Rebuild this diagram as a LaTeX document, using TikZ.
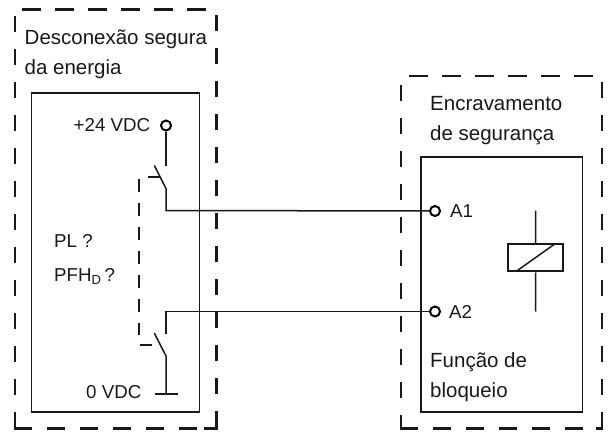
\documentclass[tikz,border=0pt]{standalone}
\usepackage{fontspec}
\setmainfont{Liberation Sans}
\begin{document}
\begin{tikzpicture}[x=1pt,y=-1pt,
  wire/.style={line width=1.5pt,black!90},
  boxline/.style={line width=1.3pt,black!90},
  frame/.style={line width=2.4pt,black!90},
  term/.style={circle,draw=black,line width=2pt,fill=white,inner sep=0pt,minimum size=10pt},
  big/.style={anchor=base west,inner sep=0pt,font=\fontsize{20.5}{22}\selectfont,text=black!90},
  small/.style={anchor=base west,inner sep=0pt,font=\fontsize{18.7}{22}\selectfont,text=black!90}]
\useasboundingbox (0,0) rectangle (608,432);
\fill[white] (0,0) rectangle (608,432);
% outer dashed frames
\draw[frame,dash pattern=on 19pt off 14pt] (22,9.5) -- (216,9.5);
\draw[frame,dash pattern=on 16pt off 17pt] (216.5,15) -- (216.5,416);
\draw[frame,dash pattern=on 16pt off 17pt] (14.7,16) -- (14.7,416);
\draw[frame] (14.7,416) -- (14.7,428.5) -- (32,428.5);
\draw[frame,dash pattern=on 18pt off 15pt] (47,428.5) -- (200,428.5);
\draw[frame] (204,428.5) -- (216.5,428.5) -- (216.5,416);
\draw[frame,dash pattern=on 19pt off 14pt] (409,76) -- (594,76);
\draw[frame,dash pattern=on 16pt off 17pt] (401,85) -- (401,416);
\draw[frame,dash pattern=on 16pt off 17pt] (602,82) -- (602,416);
\draw[frame] (401,416) -- (401,428.5) -- (418,428.5);
\draw[frame,dash pattern=on 18pt off 15pt] (433,428.5) -- (590,428.5);
\draw[frame] (596,428.5) -- (602,428.5) -- (602,416);
% inner boxes
\draw[boxline] (31.5,93) rectangle (199.5,412);
\draw[boxline] (421,157) rectangle (582.7,412);
% left switches
\coordinate (s1top) at (166,166);
\coordinate (s1piv) at (166,188.5);
\coordinate (s1arm) at (154.3,165.5);
\coordinate (s1tickL) at (148,177);
\coordinate (s1tickR) at (160,177);
\coordinate (s2top) at (166,334);
\coordinate (s2piv) at (166,356);
\coordinate (s2arm) at (154.3,333);
\coordinate (s2tickL) at (139.5,345);
\coordinate (s2tickR) at (152,345);
\coordinate (gnd) at (166,394);
\coordinate (gndL) at (155,394);
\coordinate (gndR) at (177.5,394);
\coordinate (bend1) at (166,210.5);
\coordinate (bend2) at (166,311.5);
\node[term] (p24) at (166,125.5) {};
\node[term] (a1) at (435,211) {};
\node[term] (a2) at (435,311.5) {};
\draw[wire] (p24) -- (s1top);
\draw[wire] (s1arm) -- (s1piv) -- (bend1) -- (a1);
\draw[wire] (s1tickL) -- (s1tickR);
\draw[wire] (a2) -- (bend2) -- (s2top);
\draw[wire] (s2arm) -- (s2piv) -- (gnd);
\draw[wire] (s2tickL) -- (s2tickR);
\draw[line width=2.6pt,black!90] (gndL) -- (gndR);
\draw[wire,dash pattern=on 13pt off 11pt] (139,179) -- (139,335);
% coil
\node[draw=black!90,line width=2.2pt,inner sep=0pt,minimum width=54.4pt,minimum height=27.3pt] (coil) at (535.5,257.6) {};
\coordinate (c1) at (535.7,210.7);
\coordinate (c2) at (535.7,311.7);
\draw[wire] (c1) -- (coil.north);
\draw[wire] (coil.south) -- (c2);
\draw[wire] (516.7,271) -- (554.7,244);
% text
\node[big] (t1) at (24.5,44) {Desconexão segura};
\node[big] (t2) at (24.5,74.5) {da energia};
\node[small] (t3) at (73.5,131) {+24 VDC};
\node[small] (t4) at (54,247) {PL ?};
\node[small] (t5) at (54,281) {PFH\textsubscript{D}\,?};
\node[small] (t6) at (86,398.5) {0 VDC};
\node[big] (t7) at (430,110) {Encravamento};
\node[big] (t8) at (430,140) {de segurança};
\node[small] (t9) at (450,217) {A1};
\node[small] (t10) at (449,318) {A2};
\node[big] (t11) at (430,367.5) {Função de};
\node[big] (t12) at (430,397.5) {bloqueio};
\end{tikzpicture}
\end{document}
